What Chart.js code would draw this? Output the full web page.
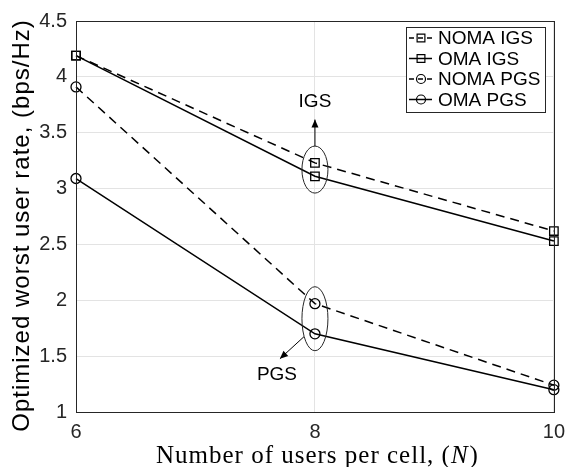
<!DOCTYPE html>
<html>
<head>
<meta charset="utf-8">
<script src="https://cdn.jsdelivr.net/npm/chart.js@4"></script>
<style>
  body { margin: 0; background: #fff; }
  #wrap { width: 573px; height: 467px; }
</style>
</head>
<body>
<div id="wrap"><canvas id="rate-chart" width="573" height="467"></canvas></div>
<script>
// values
const users = [6, 8, 10];
const nomaIGS = [4.19, 3.23, 2.62];
const omaIGS = [4.19, 3.11, 2.53];
const nomaPGS = [3.91, 1.97, 1.24];
const omaPGS = [3.09, 1.70, 1.20];
const seriesNames = ['NOMA IGS', 'OMA IGS', 'NOMA PGS', 'OMA PGS'];
const xTickLabels = ['6', '8', '10'];
const yTickLabels = ['1', '1.5', '2', '2.5', '3', '3.5', '4', '4.5'];

const SANS = '"Liberation Sans", Arial, Helvetica, sans-serif';
const SERIF = '"Liberation Serif", "Times New Roman", serif';
const AXIS = '#262626';

function toPoints(vals) {
    return vals.map((v, i) => ({ x: users[i], y: v }));
}

function makeSet(label, vals, dashed, marker) {
    return {
        label: label,
        data: toPoints(vals),
        borderColor: '#000',
        borderWidth: 1.5,
        borderDash: dashed ? [9, 6] : [],
        pointStyle: marker,
        pointRadius: marker === 'rect' ? 6 : 5,
        pointHoverRadius: marker === 'rect' ? 6 : 5,
        pointBorderWidth: 1.3,
        pointBorderColor: '#000',
        pointBackgroundColor: 'rgba(0,0,0,0)',
        fill: false,
        tension: 0,
        clip: false
    };
}

function arrow(ctx, x1, y1, x2, y2) {
    const a = Math.atan2(y2 - y1, x2 - x1);
    ctx.beginPath();
    ctx.moveTo(x1, y1);
    ctx.lineTo(x2, y2);
    ctx.stroke();
    ctx.beginPath();
    ctx.moveTo(x2, y2);
    ctx.lineTo(x2 - 8 * Math.cos(a) + 3.5 * Math.sin(a), y2 - 8 * Math.sin(a) - 3.5 * Math.cos(a));
    ctx.lineTo(x2 - 8 * Math.cos(a) - 3.5 * Math.sin(a), y2 - 8 * Math.sin(a) + 3.5 * Math.cos(a));
    ctx.closePath();
    ctx.fill();
}

// ellipses, arrows and the IGS / PGS notes
const notes = {
    id: 'notes',
    afterDatasetsDraw(chart) {
        const ctx = chart.ctx;
        const xs = chart.scales.x, ys = chart.scales.y;
        const cx = xs.getPixelForValue(users[1]);
        const igsY = (ys.getPixelForValue(nomaIGS[1]) + ys.getPixelForValue(omaIGS[1])) / 2;
        const pgsY = (ys.getPixelForValue(nomaPGS[1]) + ys.getPixelForValue(omaPGS[1])) / 2;
        ctx.save();
        ctx.strokeStyle = AXIS;
        ctx.fillStyle = '#000';
        ctx.lineWidth = 1;
        ctx.setLineDash([]);

        ctx.beginPath();
        ctx.ellipse(cx, igsY, 13, 23.5, 0, 0, Math.PI * 2);
        ctx.stroke();
        ctx.beginPath();
        ctx.ellipse(cx, pgsY, 13, 32, 0, 0, Math.PI * 2);
        ctx.stroke();

        ctx.strokeStyle = '#000';
        arrow(ctx, cx, igsY - 23.5, cx, igsY - 50);
        arrow(ctx, cx - 11, pgsY + 18, cx - 35, pgsY + 40);

        ctx.font = '19px ' + SANS;
        ctx.textAlign = 'center';
        ctx.textBaseline = 'middle';
        ctx.fillText('IGS', cx, igsY - 68);
        ctx.fillText('PGS', cx - 38, pgsY + 56);
        ctx.restore();
    }
};

// box, legend and axis titles
const frame = {
    id: 'frame',
    afterDraw(chart) {
        const ctx = chart.ctx;
        const a = chart.chartArea;
        ctx.save();
        ctx.strokeStyle = AXIS;
        ctx.lineWidth = 1;
        ctx.setLineDash([]);
        ctx.strokeRect(Math.round(a.left) + 0.5, Math.round(a.top) + 0.5,
            Math.round(a.right - a.left), Math.round(a.bottom - a.top));

        // legend
        const lx = 406, ly = 27, lw = 139, lh = 85;
        ctx.fillStyle = '#fff';
        ctx.fillRect(lx, ly, lw, lh);
        ctx.strokeRect(lx + 0.5, ly + 0.5, lw, lh);
        ctx.font = '19px ' + SANS;
        ctx.textBaseline = 'middle';
        ctx.textAlign = 'left';
        chart.data.datasets.forEach((ds, i) => {
            const y = ly + 11 + i * 20.5;
            ctx.strokeStyle = '#000';
            ctx.lineWidth = 1.5;
            ctx.setLineDash(ds.borderDash.length ? [5, 4] : []);
            ctx.beginPath();
            ctx.moveTo(lx + 3, y);
            ctx.lineTo(lx + 26, y);
            ctx.stroke();
            ctx.setLineDash([]);
            ctx.lineWidth = 1.2;
            ctx.fillStyle = 'rgba(0,0,0,0)';
            Chart.helpers.drawPoint(ctx, {
                pointStyle: ds.pointStyle, radius: ds.pointStyle === 'rect' ? 5.5 : 4.5, borderWidth: 1.2
            }, lx + 15, y);
            ctx.fillStyle = '#000';
            ctx.fillText(ds.label, lx + 32, y + 1);
        });

        // y title
        ctx.save();
        ctx.translate(22, (a.top + a.bottom) / 2 + 9);
        ctx.rotate(-Math.PI / 2);
        ctx.font = '24px ' + SANS;
        ctx.letterSpacing = '1px';
        ctx.textAlign = 'center';
        ctx.textBaseline = 'middle';
        ctx.fillStyle = '#000';
        ctx.fillText('Optimized worst user rate, (bps/Hz)', 0, 0);
        ctx.restore();

        // x title with italic N
        ctx.fillStyle = '#000';
        ctx.textBaseline = 'alphabetic';
        ctx.textAlign = 'left';
        ctx.letterSpacing = '1px';
        const p1 = 'Number of users per cell, (', p2 = 'N', p3 = ')';
        ctx.font = '25px ' + SERIF;
        const w1 = ctx.measureText(p1).width, w3 = ctx.measureText(p3).width;
        ctx.font = 'italic 25px ' + SERIF;
        const w2 = ctx.measureText(p2).width;
        let x = (a.left + a.right) / 2 - (w1 + w2 + w3) / 2 + 2;
        const by = 463;
        ctx.font = '25px ' + SERIF;
        ctx.fillText(p1, x, by);
        ctx.font = 'italic 25px ' + SERIF;
        ctx.fillText(p2, x + w1, by);
        ctx.font = '25px ' + SERIF;
        ctx.fillText(p3, x + w1 + w2 + 1, by);
        ctx.restore();
    }
};

new Chart(document.getElementById('rate-chart'), {
    type: 'line',
    data: {
        datasets: [
            makeSet(seriesNames[0], nomaIGS, true, 'rect'),
            makeSet(seriesNames[1], omaIGS, false, 'rect'),
            makeSet(seriesNames[2], nomaPGS, true, 'circle'),
            makeSet(seriesNames[3], omaPGS, false, 'circle')
        ]
    },
    options: {
        responsive: false,
        animation: false,
        layout: { padding: { top: 19, right: 19, left: 0, bottom: 0 } },
        plugins: { legend: { display: false }, tooltip: { enabled: false } },
        scales: {
            x: {
                type: 'linear',
                min: 6, max: 10,
                afterFit(scale) { scale.height = 55; },
                afterBuildTicks(scale) { scale.ticks = users.map(v => ({ value: v })); },
                ticks: {
                    callback: (v, i) => xTickLabels[i],
                    font: { family: SANS, size: 20 },
                    color: '#262626',
                    padding: 8,
                    maxRotation: 0
                },
                grid: { color: '#e3e3e3', drawTicks: false },
                border: { display: false }
            },
            y: {
                min: 1, max: 4.5,
                afterFit(scale) { scale.width = 76; },
                ticks: {
                    stepSize: 0.5,
                    callback: (v, i) => yTickLabels[i],
                    font: { family: SANS, size: 20 },
                    color: '#262626',
                    padding: 9
                },
                grid: { color: '#e3e3e3', drawTicks: false },
                border: { display: false }
            }
        }
    },
    plugins: [notes, frame]
});
</script>
</body>
</html>
